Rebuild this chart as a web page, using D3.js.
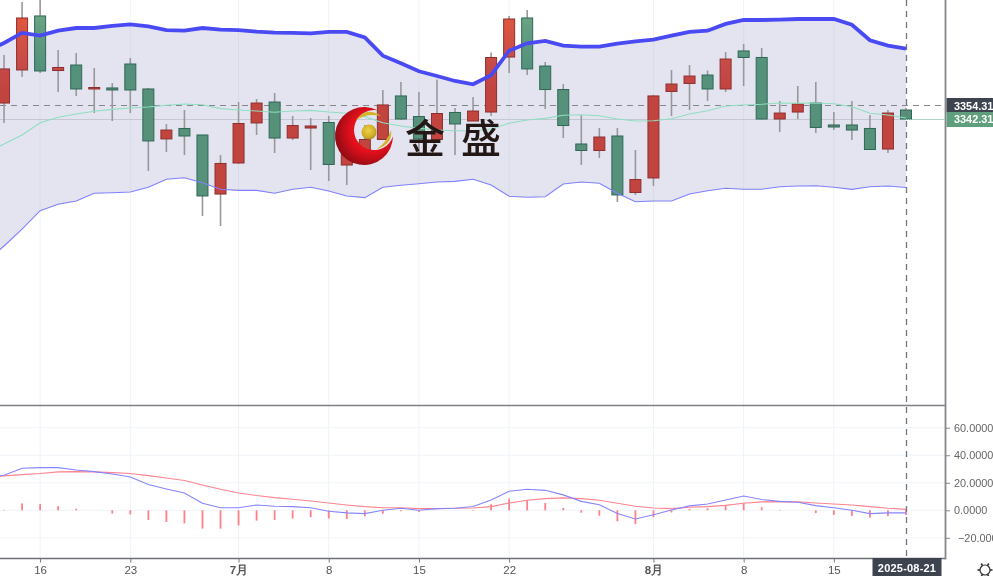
<!DOCTYPE html>
<html><head><meta charset="utf-8">
<script src="https://cdn.jsdelivr.net/npm/d3@7/dist/d3.min.js"></script>
<style>html,body{margin:0;padding:0;background:#fff;overflow:hidden}svg{display:block;filter:blur(.35px)}
text{font-family:"Liberation Sans",Arial,sans-serif}</style></head><body>
<script>
const dates=["06-11","06-12","06-13","06-16","06-17","06-18","06-19","06-20","06-23","06-24","06-25","06-26","06-27","06-30","07-01","07-02","07-03","07-04","07-07","07-08","07-09","07-10","07-11","07-14","07-15","07-16","07-17","07-18","07-21","07-22","07-23","07-24","07-25","07-28","07-29","07-30","07-31","08-01","08-04","08-05","08-06","08-07","08-08","08-11","08-12","08-13","08-14","08-15","08-18","08-19","08-20","08-21"];
const opens=[3345,3356.5,3385.9,3433.9,3385.4,3390.3,3369.0,3369.9,3391.2,3369.0,3324.6,3333.9,3328.1,3275.6,3303.2,3338.8,3357.4,3325.4,3334.3,3339.2,3301.4,3314.8,3324.1,3362.8,3344.5,3324.1,3348.1,3340.5,3348.5,3397.4,3432.1,3389.4,3368.5,3320.1,3314.3,3327.2,3277.0,3289.9,3366.8,3373.9,3381.4,3369.0,3402.8,3397.0,3342.3,3348.5,3356.5,3337.0,3337.0,3333.9,3315.6,3350.3];
const closes=[3355,3386.8,3432.1,3385.0,3388.1,3369.0,3370.3,3368.1,3368.1,3322.8,3332.5,3327.2,3273.9,3302.8,3338.3,3356.5,3325.4,3336.5,3336.1,3301.9,3326.3,3324.1,3354.8,3342.3,3324.6,3347.2,3337.9,3349.4,3397.0,3431.2,3386.8,3368.5,3336.5,3314.3,3326.3,3274.8,3288.5,3362.8,3373.4,3380.5,3369.0,3395.6,3397.0,3342.3,3347.6,3355.7,3334.8,3335.2,3332.5,3315.2,3347.6,3342.3];
const highs=[3370,3399.2,3446.3,3452.5,3403.7,3401.0,3387.6,3374.3,3396.5,3369.9,3337.9,3350.3,3328.1,3310.3,3357.4,3360.1,3365.4,3345.0,3343.2,3345.0,3330.8,3337.0,3368.1,3375.2,3366.3,3377.4,3352.1,3361.9,3401.4,3433.9,3439.2,3393.0,3373.4,3345.9,3334.3,3334.3,3314.8,3363.6,3385.9,3390.3,3385.4,3401.9,3409.0,3405.4,3358.3,3371.6,3375.2,3348.5,3358.3,3345.9,3350.3,3352.1];
const lows=[3330,3338.8,3379.6,3383.2,3366.3,3362.8,3347.6,3340.5,3347.6,3296.1,3313.0,3310.3,3256.1,3247.2,3302.3,3328.1,3312.1,3323.7,3297.0,3287.2,3283.6,3313.0,3323.7,3341.4,3310.3,3323.7,3310.3,3340.5,3345.0,3383.2,3381.4,3351.2,3325.4,3301.4,3307.6,3268.5,3274.8,3282.8,3345.0,3350.3,3358.3,3366.3,3371.6,3341.9,3330.8,3342.3,3329.9,3332.5,3323.7,3314.8,3312.1,3341.4];
const bollUpper=[3401.9,3409.9,3418.8,3416.4,3420.8,3423.2,3423.2,3425.0,3426.5,3424.7,3421.4,3420.8,3423.2,3421.7,3421.4,3419.9,3419.0,3418.8,3418.5,3419.7,3419.7,3414.9,3398.6,3391.8,3384.7,3380.5,3376.1,3373.2,3381.2,3403.0,3409.6,3411.7,3407.5,3406.6,3406.6,3409.3,3411.4,3412.8,3416.4,3419.7,3420.8,3426.8,3430.3,3430.3,3430.6,3431.2,3431.2,3431.2,3426.1,3412.3,3407.5,3404.8];
const bollMid=[3313.0,3320.1,3328.1,3339.0,3343.8,3346.8,3349.2,3350.9,3352.1,3353.0,3354.5,3355.7,3355.0,3351.5,3350.3,3349.4,3348.3,3349.4,3350.0,3348.5,3347.4,3344.4,3339.0,3336.1,3334.0,3332.5,3331.9,3331.6,3333.4,3338.5,3341.4,3342.9,3345.6,3346.1,3345.2,3342.3,3340.5,3340.8,3342.6,3346.8,3349.7,3353.9,3354.8,3355.4,3356.5,3356.3,3356.5,3355.9,3353.2,3347.4,3345.9,3343.2];
const bollLower=[3215.2,3229.4,3244.5,3260.8,3266.5,3269.4,3276.3,3276.8,3277.4,3281.6,3288.7,3290.1,3285.7,3279.8,3278.9,3278.9,3276.3,3279.8,3281.6,3278.3,3273.9,3272.4,3281.6,3283.4,3284.8,3286.3,3286.9,3288.7,3283.6,3273.6,3272.7,3273.2,3284.5,3286.3,3285.2,3276.3,3268.8,3269.4,3269.4,3275.6,3278.6,3280.7,3279.8,3279.8,3282.1,3282.8,3283.0,3281.6,3279.8,3282.1,3282.8,3281.4];
const macdDif=[23.8,25.5,30.5,31.0,31.0,29.3,28.1,26.4,24.2,18.7,15.5,12.6,5.1,1.9,1.9,3.9,2.9,2.7,1.9,-0.7,-1.9,-2.4,0,1.5,0,1.2,1.5,2.7,7.5,13.8,15.3,14.5,11.2,6.5,4.1,-2.4,-6.3,-3.2,0.2,3.2,4.6,7.5,10.4,7.8,6.5,5.8,3.4,1.9,0,-2.4,-1.9,-1.9];
const macdDea=[24.2,25.0,25.9,26.7,27.9,28.1,27.9,27.4,26.7,25.2,23.5,21.6,18.4,15.3,12.6,10.7,9.2,8.0,6.8,5.3,3.9,2.7,1.9,1.9,1.2,1.2,1.5,1.7,2.7,5.3,7.3,8.5,9.0,8.5,7.3,5.1,2.9,1.7,1.2,2.2,2.7,3.6,5.1,6.1,6.3,6.1,5.3,4.6,3.9,2.7,1.5,0.7];
const macdHist=[0,0.3,5,4.6,3,1.2,0,-2.4,-3,-7,-8.5,-9.5,-13.3,-13.3,-11,-7.5,-7,-6,-5,-6,-6.3,-4.5,-2.5,-0.7,-1.2,0,0,-0.4,4.4,8.5,7.3,5.3,1.7,-1.7,-3.9,-8,-10,-5,-1.5,1,1.5,3.9,5,2.2,0.3,0,-2,-3.4,-4,-5.3,-4.2,-3.4];
const xTicks=[["06-16","16",0],["06-23","23",0],["07-01","7月",1],["07-08","8",0],["07-15","15",0],["07-22","22",0],["08-01","8月",1],["08-08","8",0],["08-15","15",0]];
const macdTicks=[60,40,20,0,-20];
const crossPrice=3354.31, lastPrice=3342.31, crossDate="08-21", crossLabel="2025-08-21";

const W=993,H=576,plotR=945,panelSplit=405.5,panelBottom=558.5;
const svg=d3.select("body").append("svg").attr("width",W).attr("height",H);
const defs=svg.append("defs");
function grad(id,stops){const g=defs.append("linearGradient").attr("id",id).attr("gradientUnits","userSpaceOnUse").attr("x1",0).attr("x2",0).attr("y1",0).attr("y2",90);
 stops.forEach(s=>g.append("stop").attr("offset",s[0]).attr("stop-color",s[1]));}
grad("upG",[[0,"#e8583a"],[0.3,"#da5540"],[0.75,"#c44a48"],[1,"#c2443f"]]);
grad("dnG",[[0,"#6fae88"],[0.3,"#659f82"],[0.75,"#53917b"],[1,"#56917a"]]);
const rg=defs.append("radialGradient").attr("id","cres").attr("cx",0.62).attr("cy",0.42).attr("r",0.66);
[[0,"#ff1a1a"],[0.55,"#e0101c"],[1,"#8a0a12"]].forEach(s=>rg.append("stop").attr("offset",s[0]).attr("stop-color",s[1]));
const bg=defs.append("radialGradient").attr("id","ball").attr("cx",0.45).attr("cy",0.4).attr("r",0.65);
[[0,"#ecd24a"],[0.65,"#d2ae28"],[1,"#a8861c"]].forEach(s=>bg.append("stop").attr("offset",s[0]).attr("stop-color",s[1]));
defs.append("clipPath").attr("id","mainClip").append("rect").attr("x",0).attr("y",0).attr("width",plotR).attr("height",panelSplit);

const x=d3.scalePoint().domain(dates).range([-14,906]);
const y=d3.scaleLinear().domain([lastPrice,crossPrice]).range([119,105.5]);
const ym=d3.scaleLinear().domain([0,60]).range([510.3,427.7]);

// grids
const vGrid=svg.append("g").attr("stroke","#eef3f8").attr("stroke-width",1);
vGrid.selectAll("line").data(xTicks).join("line").attr("x1",d=>x(d[0])).attr("x2",d=>x(d[0])).attr("y1",0).attr("y2",panelBottom);
svg.append("g").attr("stroke","#f0f4f8").selectAll("line").data(macdTicks).join("line").attr("x1",0).attr("x2",plotR).attr("y1",d=>ym(d)).attr("y2",d=>ym(d));

const main=svg.append("g").attr("clip-path","url(#mainClip)");
// band
const idx=d3.range(dates.length);
main.append("path").attr("fill","#e4e4f0").attr("d",d3.area().x(i=>x(dates[i])).y0(i=>y(bollLower[i])).y1(i=>y(bollUpper[i]))(idx));
main.append("g").attr("stroke","#d8dce8").selectAll("line").data(xTicks).join("line").attr("x1",d=>x(d[0])).attr("x2",d=>x(d[0])).attr("y1",d=>y(bollUpper[dates.indexOf(d[0])])).attr("y2",d=>y(bollLower[dates.indexOf(d[0])]));
// price lines
main.append("line").attr("x1",0).attr("x2",plotR).attr("y1",y(lastPrice)+.5).attr("y2",y(lastPrice)+.5).attr("stroke","#c3c8d2").attr("stroke-width",1);
main.append("line").attr("x1",0).attr("x2",plotR).attr("y1",y(crossPrice)).attr("y2",y(crossPrice)).attr("stroke","#85858c").attr("stroke-width",1.2).attr("stroke-dasharray","6 5");
// candles
const bw=11;
const c=main.append("g");
c.selectAll("line").data(idx).join("line").attr("x1",i=>x(dates[i])).attr("x2",i=>x(dates[i])).attr("y1",i=>y(highs[i])).attr("y2",i=>y(lows[i])).attr("stroke","#98989c").attr("stroke-width",1.6);
c.selectAll("rect").data(idx).join("rect").attr("x",i=>x(dates[i])-bw/2).attr("width",bw)
 .attr("y",i=>y(Math.max(opens[i],closes[i]))).attr("height",i=>Math.max(1,Math.abs(y(opens[i])-y(closes[i]))))
 .attr("fill",i=>closes[i]>=opens[i]?"url(#upG)":"url(#dnG)")
 .attr("stroke",i=>closes[i]>=opens[i]?"#8e2f2f":"#2f6656").attr("stroke-width",1);
// boll lines
const line=a=>d3.line().x((d,i)=>x(dates[i])).y(d=>y(d))(a);
main.append("path").attr("d",line(bollMid)).attr("fill","none").attr("stroke","#8fdfc0").attr("stroke-width",1.1);
main.append("path").attr("d",line(bollLower)).attr("fill","none").attr("stroke","#8080ff").attr("stroke-width",1.1);
main.append("path").attr("d",line(bollUpper)).attr("fill","none").attr("stroke","#4a4af5").attr("stroke-width",3.8);

// MACD
const sub=svg.append("g");
sub.selectAll("rect").data(idx).join("rect").attr("x",i=>x(dates[i])-0.9).attr("width",1.8)
 .attr("y",i=>ym(Math.max(0,macdHist[i]))).attr("height",i=>Math.abs(ym(macdHist[i])-ym(0))).attr("fill","#ff8088");
const mline=d3.line().x((d,i)=>x(dates[i])).y(d=>ym(d));
sub.append("path").attr("d",mline(macdDea)).attr("fill","none").attr("stroke","#ff8490").attr("stroke-width",1.1);
sub.append("path").attr("d",mline(macdDif)).attr("fill","none").attr("stroke","#8585ff").attr("stroke-width",1.1);

// crosshair
svg.append("line").attr("x1",x(crossDate)+.5).attr("x2",x(crossDate)+.5).attr("y1",0).attr("y2",panelBottom+3).attr("stroke","#707684").attr("stroke-width",1.3).attr("stroke-dasharray","6 5");

// frame
svg.append("line").attr("x1",0).attr("x2",plotR).attr("y1",panelSplit).attr("y2",panelSplit).attr("stroke","#7f8187").attr("stroke-width",1.6);
svg.append("line").attr("x1",0).attr("x2",plotR).attr("y1",panelBottom).attr("y2",panelBottom).attr("stroke","#6e7076").attr("stroke-width",1.6);
svg.append("line").attr("x1",plotR+.5).attr("x2",plotR+.5).attr("y1",0).attr("y2",panelBottom+1).attr("stroke","#85878c").attr("stroke-width",1.8);

// axes
const xa=svg.append("g").attr("transform",`translate(0,${panelBottom})`)
 .call(d3.axisBottom(x).tickValues(xTicks.map(d=>d[0])).tickSize(4).tickFormat(d=>xTicks.find(t=>t[0]===d)[1]));
xa.select(".domain").remove();
xa.selectAll("line").attr("stroke","#777");
xa.selectAll("text").attr("y",7).attr("dy",".71em").attr("fill","#555").attr("font-size",11.5).attr("font-family",'"Liberation Sans",sans-serif')
 .attr("font-weight",d=>xTicks.find(t=>t[0]===d)[2]?"bold":"normal");
const ya=svg.append("g").attr("transform",`translate(${plotR+1},0)`)
 .call(d3.axisRight(ym).tickValues(macdTicks).tickSize(4).tickFormat(d=>d3.format(".4f")(d)));
ya.select(".domain").remove();
ya.selectAll("line").attr("stroke","#888");
ya.selectAll("text").attr("x",d=>d<0?12:8).attr("fill","#666").attr("font-size",10.9).attr("font-family",'"Liberation Sans",sans-serif');

// price labels
svg.append("rect").attr("x",plotR+1.5).attr("y",y(crossPrice)-7.5).attr("width",W-plotR).attr("height",14.5).attr("fill","#3e4350");
svg.append("rect").attr("x",plotR+1.5).attr("y",y(lastPrice)-7).attr("width",W-plotR).attr("height",15).attr("fill","#5f9f7d");
[[crossPrice,"3354.31"],[lastPrice,"3342.31"]].forEach(d=>svg.append("text").attr("x",954).attr("y",y(d[0])+4).attr("fill","#fff").attr("font-size",10.9).attr("font-weight","bold").text(d[1]));
svg.append("line").attr("x1",906).attr("x2",plotR).attr("y1",y(lastPrice)+.5).attr("y2",y(lastPrice)+.5).attr("stroke","#9adcc0").attr("stroke-dasharray","1 1");

// date label
svg.append("rect").attr("x",872.5).attr("y",558).attr("width",69).attr("height",18).attr("fill","#3e4350");
svg.append("text").attr("x",907).attr("y",571.5).attr("text-anchor","middle").attr("fill","#fff").attr("font-size",11).attr("font-weight","bold").attr("letter-spacing",.2).text(crossLabel);

// settings glyph
const gear=svg.append("g").attr("transform","translate(985,570)").attr("fill","none").attr("stroke","#333");
gear.append("circle").attr("r",5).attr("stroke-width",1.2);
gear.selectAll("line").data(d3.range(6)).join("line").attr("x1",d=>5*Math.cos(d*Math.PI/3)).attr("y1",d=>5*Math.sin(d*Math.PI/3)).attr("x2",d=>7.5*Math.cos(d*Math.PI/3)).attr("y2",d=>7.5*Math.sin(d*Math.PI/3)).attr("stroke-width",1.6);

// watermark
const wm=svg.append("g");
wm.append("path").attr("d","M377.4,110.3 A29,29 0 1,0 393,136.3 A20,20 0 1,1 377.4,110.3 Z").attr("fill","url(#cres)");
wm.append("path").attr("d","M356,120 Q366,106 381,116 Q368,112.5 356,120 Z").attr("fill","#d4b32c");
wm.append("path").attr("d","M377,149 Q393,144 391,130 Q387,142 377,149 Z").attr("fill","#d4b32c");
wm.append("circle").attr("cx",369).attr("cy",132).attr("r",7.5).attr("fill","url(#ball)");
wm.append("text").attr("x",405).attr("y",153).attr("font-size",40).attr("fill","#231815").attr("font-weight",500).style("font-family",'"Noto Sans CJK SC"').text("金");
wm.append("text").attr("x",461).attr("y",153).attr("font-size",40).attr("fill","#231815").attr("font-weight",500).style("font-family",'"Noto Sans CJK SC"').text("盛");
</script></body></html>
